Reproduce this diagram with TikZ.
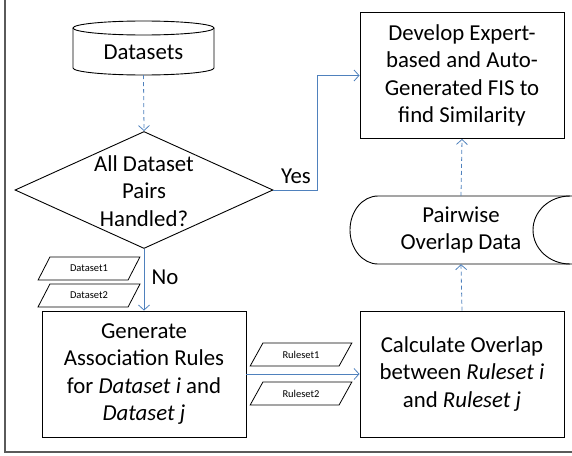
\documentclass[tikz,border=0pt]{standalone}
\usepackage{fontspec}
\setmainfont{Carlito}
\usetikzlibrary{shapes.geometric,arrows.meta}
\definecolor{flowblue}{RGB}{79,129,189}
\definecolor{framegray}{RGB}{90,90,90}
\begin{document}
\begin{tikzpicture}[x=1pt, y=-1pt,
        txt/.style={align=center, inner sep=0pt, font=\fontsize{22.8}{27.5}\selectfont},
        box/.style={txt, draw, line width=0.9pt, minimum width=204pt, minimum height=126pt},
        io/.style={draw, trapezium, trapezium left angle=50, trapezium right angle=130,
            trapezium stretches=true, minimum width=102pt, minimum height=23pt,
            inner sep=0pt, line width=0.8pt, font=\fontsize{10.5}{12}\selectfont},
        flow/.style={draw=flowblue, line width=0.8pt, -{Straight Barb[length=5pt,width=11pt]}},
        dataflow/.style={flow, dash pattern=on 4pt off 3pt}]
    \useasboundingbox (0,0) rectangle (572,455);
    \draw[framegray, line width=1.2pt] (5,0) -- (5,452) -- (572,452);

    % datasets (cylinder)
    \node[txt, minimum width=141pt, minimum height=46pt] (data) at (143.5,52) {Datasets};
    \draw[line width=0.9pt] (143.5,28) ellipse (70.5pt and 7pt);
    \draw[line width=0.9pt] (73,28) -- (73,68) arc[start angle=180, end angle=360, x radius=70.5pt, y radius=7pt] -- (214,28);

    % decision
    \node[draw, diamond, line width=0.9pt, minimum width=258pt, minimum height=117pt, inner sep=0pt] (pairs) at (144,190) {};
    \node[txt] (pairstext) at (144,191) {All Dataset\\Pairs\\Handled?};

    % process boxes
    \node[box] (develop) at (462,75.5) {Develop Expert-\\based and Auto-\\Generated FIS to\\find Similarity};
    \node[box] (generate) at (144,374) {Generate\\Association Rules\\for \textit{Dataset i} and\\\textit{Dataset j}};
    \node[box] (calc) at (462,374) {Calculate Overlap\\between \textit{Ruleset i}\\and \textit{Ruleset j}};

    % pairwise overlap data (storage)
    \node[txt, minimum width=160pt, minimum height=68pt] (overlap) at (461,230) {Pairwise\\Overlap Data};
    \draw[line width=0.9pt] (572,196) -- (378,196) arc[start angle=90, end angle=270, x radius=28pt, y radius=34pt] -- (572,264);
    \draw[line width=0.9pt] (570,196) arc[start angle=90, end angle=270, x radius=37pt, y radius=34pt];

    % inputs
    \node[io] (set1) at (89,268.5) {Dataset1};
    \node[io] (set2) at (89,295.5) {Dataset2};
    \node[io] (rules1) at (301,354.5) {Ruleset1};
    \node[io] (rules2) at (301,393.5) {Ruleset2};

    % connectors
    \coordinate (bend) at (317,190);
    \draw[dataflow] (data.south) -- (pairs.north);
    \draw[flow] (pairs.east) -- (bend) |- (develop.west);
    \draw[flow] (pairs.south) -- (generate.north);
    \draw[flow] (generate.east) -- (calc.west);
    \draw[dataflow] (calc.north) -- (overlap.south);
    \draw[dataflow] (overlap.north) -- (develop.south);

    \node[txt] (yes) at (296,176) {Yes};
    \node[txt] (no) at (165,277) {No};
\end{tikzpicture}
\end{document}
